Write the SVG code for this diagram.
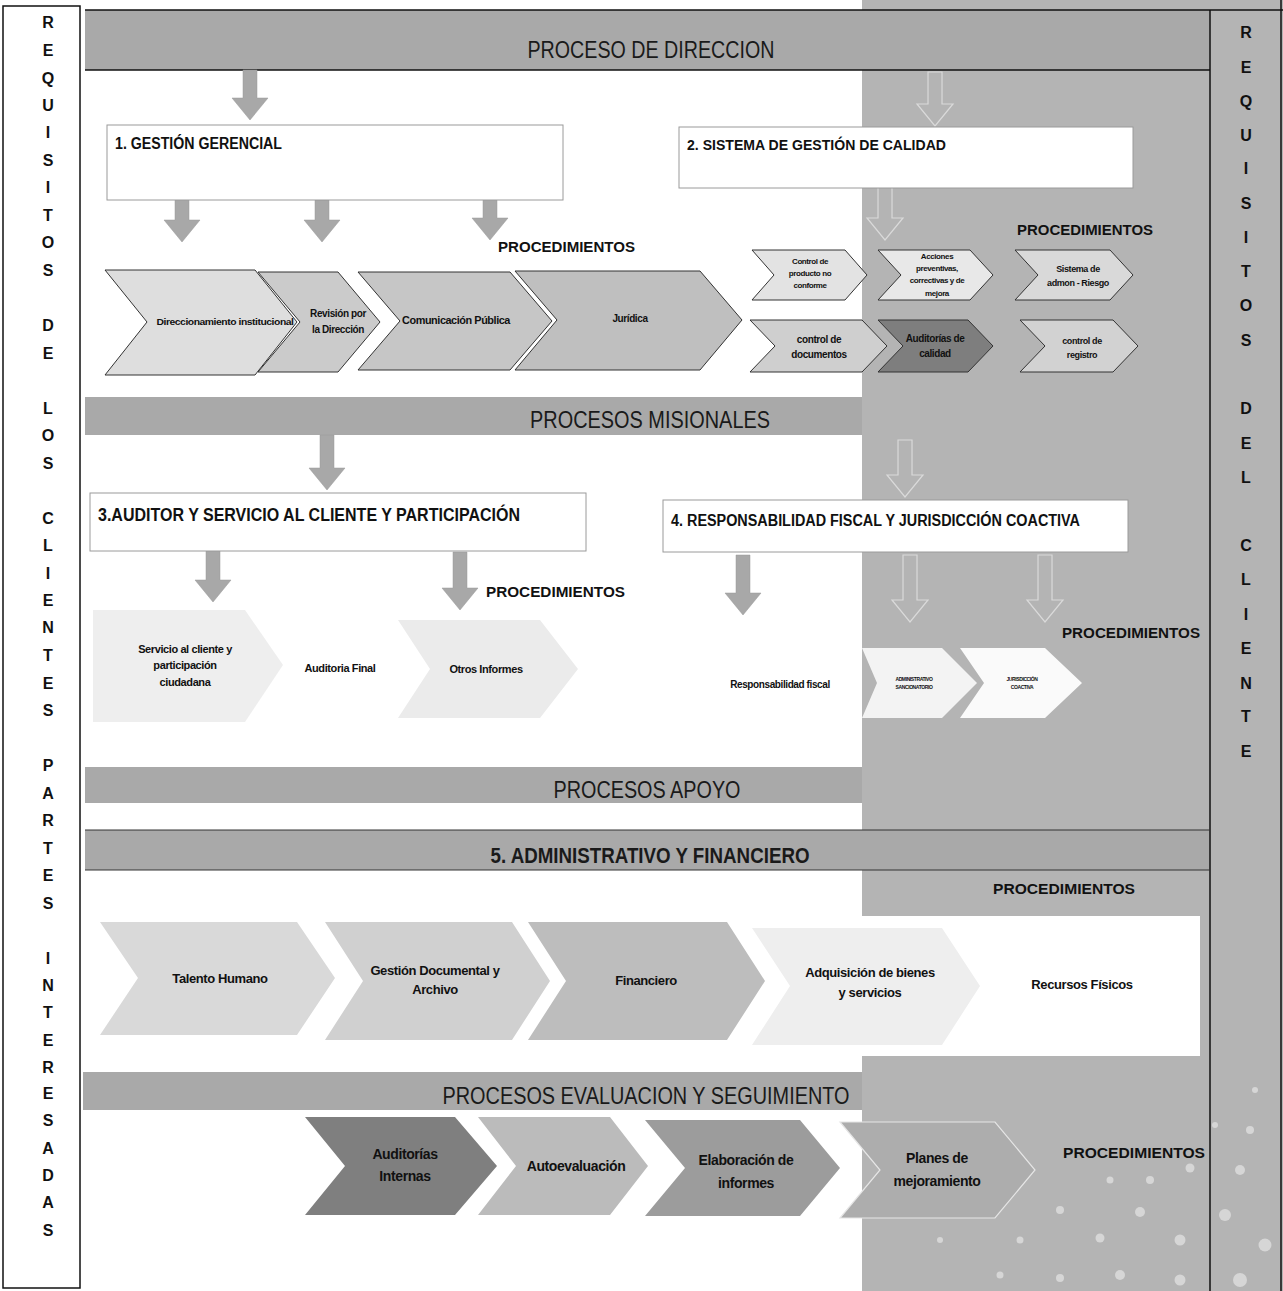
<svg xmlns="http://www.w3.org/2000/svg" width="1283" height="1291" viewBox="0 0 1283 1291">
<defs>
<style>
.hdr{font-family:"Liberation Sans",Arial,sans-serif;font-size:24px;fill:#1a1a1a;text-anchor:middle}
.hdrb{font-family:"Liberation Sans",Arial,sans-serif;font-size:22px;font-weight:bold;fill:#1a1a1a;text-anchor:middle}
.ttl{font-family:"Liberation Sans",Arial,sans-serif;font-weight:bold;fill:#111}
.proc{font-family:"Liberation Sans",Arial,sans-serif;font-size:14px;font-weight:900;fill:#111}
.lbl{font-family:"Liberation Sans",Arial,sans-serif;font-weight:bold;fill:#111;text-anchor:middle;letter-spacing:-0.4px}
.let{font-family:"Liberation Sans",Arial,sans-serif;font-size:16px;font-weight:bold;fill:#111;text-anchor:middle}
.bar{fill:#a9a9a9}
.box{fill:#fff;stroke:#9a9a9a;stroke-width:1}
.arr{fill:#a8a8a8;stroke:#999;stroke-width:0.5}
.arro{fill:#b4b4b4;stroke:#dadada;stroke-width:1.2}
.chv{stroke:#333;stroke-width:1}
.ln{stroke:#111;stroke-width:1.5;fill:none}
.dot{fill:#fff;opacity:0.45}
</style>
</defs>
<rect x="0" y="0" width="1283" height="1291" fill="#fff"/>
<!-- right gray region -->
<rect x="862" y="0" width="421" height="1291" fill="#b4b4b4"/>
<!-- decorative dots bottom right -->
<g id="dots">
<circle class="dot" cx="940" cy="1240" r="3"/><circle class="dot" cx="980" cy="1215" r="3"/><circle class="dot" cx="1020" cy="1240" r="3.5"/><circle class="dot" cx="1060" cy="1210" r="4"/><circle class="dot" cx="1100" cy="1238" r="4.5"/><circle class="dot" cx="1140" cy="1212" r="5"/><circle class="dot" cx="1180" cy="1240" r="5.5"/><circle class="dot" cx="1225" cy="1215" r="6"/><circle class="dot" cx="1265" cy="1245" r="6.5"/>
<circle class="dot" cx="1110" cy="1180" r="3.5"/><circle class="dot" cx="1150" cy="1180" r="4"/><circle class="dot" cx="1190" cy="1168" r="4.5"/><circle class="dot" cx="1240" cy="1170" r="5"/><circle class="dot" cx="1250" cy="1130" r="4"/><circle class="dot" cx="1215" cy="1125" r="3"/><circle class="dot" cx="1255" cy="1090" r="3"/>
<circle class="dot" cx="1000" cy="1275" r="3.5"/><circle class="dot" cx="1060" cy="1278" r="4"/><circle class="dot" cx="1120" cy="1275" r="5"/><circle class="dot" cx="1180" cy="1280" r="5.5"/><circle class="dot" cx="1240" cy="1280" r="7"/>
</g>
<!-- bars -->
<rect class="bar" x="85" y="10" width="1125" height="60"/>
<rect class="bar" x="85" y="397" width="777" height="38"/>
<rect x="85" y="435" width="777" height="333" fill="#fff"/>
<rect class="bar" x="85" y="767" width="777" height="36"/>
<rect class="bar" x="85" y="830" width="1125" height="40"/>
<rect x="862" y="916" width="338" height="140" fill="#fff"/>
<rect class="bar" x="83" y="1072" width="779" height="38"/>
<!-- frame lines -->
<g id="frame">
<rect class="ln" x="3" y="6" width="77" height="1282"/>
<line class="ln" x1="85" y1="10" x2="1283" y2="10"/>
<line class="ln" x1="85" y1="70" x2="1210" y2="70"/>
<line class="ln" x1="1210" y1="10" x2="1210" y2="1291"/>
<line class="ln" x1="1281" y1="0" x2="1281" y2="1291"/>
<line x1="85" y1="830" x2="1210" y2="830" stroke="#333" stroke-width="1"/>
<line x1="85" y1="870" x2="1210" y2="870" stroke="#333" stroke-width="1"/>
</g>
<!-- side texts -->
<g id="left-label">
<text class="let" x="48" y="28">R</text><text class="let" x="48" y="56">E</text><text class="let" x="48" y="84">Q</text><text class="let" x="48" y="111">U</text><text class="let" x="48" y="138">I</text><text class="let" x="48" y="166">S</text><text class="let" x="48" y="193">I</text><text class="let" x="48" y="221">T</text><text class="let" x="48" y="248">O</text><text class="let" x="48" y="276">S</text>
<text class="let" x="48" y="331">D</text><text class="let" x="48" y="359">E</text>
<text class="let" x="48" y="414">L</text><text class="let" x="48" y="441">O</text><text class="let" x="48" y="469">S</text>
<text class="let" x="48" y="524">C</text><text class="let" x="48" y="551">L</text><text class="let" x="48" y="579">I</text><text class="let" x="48" y="606">E</text><text class="let" x="48" y="633">N</text><text class="let" x="48" y="661">T</text><text class="let" x="48" y="689">E</text><text class="let" x="48" y="716">S</text>
<text class="let" x="48" y="771">P</text><text class="let" x="48" y="799">A</text><text class="let" x="48" y="826">R</text><text class="let" x="48" y="854">T</text><text class="let" x="48" y="881">E</text><text class="let" x="48" y="909">S</text>
<text class="let" x="48" y="964">I</text><text class="let" x="48" y="991">N</text><text class="let" x="48" y="1018">T</text><text class="let" x="48" y="1046">E</text><text class="let" x="48" y="1073">R</text><text class="let" x="48" y="1099">E</text><text class="let" x="48" y="1126">S</text><text class="let" x="48" y="1154">A</text><text class="let" x="48" y="1181">D</text><text class="let" x="48" y="1208">A</text><text class="let" x="48" y="1236">S</text>
</g>
<g id="right-label">
<text class="let" x="1246" y="38">R</text><text class="let" x="1246" y="73">E</text><text class="let" x="1246" y="107">Q</text><text class="let" x="1246" y="141">U</text><text class="let" x="1246" y="174">I</text><text class="let" x="1246" y="209">S</text><text class="let" x="1246" y="243">I</text><text class="let" x="1246" y="277">T</text><text class="let" x="1246" y="311">O</text><text class="let" x="1246" y="346">S</text>
<text class="let" x="1246" y="414">D</text><text class="let" x="1246" y="449">E</text><text class="let" x="1246" y="483">L</text>
<text class="let" x="1246" y="551">C</text><text class="let" x="1246" y="585">L</text><text class="let" x="1246" y="620">I</text><text class="let" x="1246" y="654">E</text><text class="let" x="1246" y="689">N</text><text class="let" x="1246" y="722">T</text><text class="let" x="1246" y="757">E</text>
</g>
<!-- headers -->
<g id="headers">
<text class="hdr" x="651" y="58" textLength="247" lengthAdjust="spacingAndGlyphs">PROCESO  DE DIRECCION</text>
<text class="hdr" x="650" y="428" textLength="240" lengthAdjust="spacingAndGlyphs">PROCESOS  MISIONALES</text>
<text class="hdr" x="647" y="798" textLength="187" lengthAdjust="spacingAndGlyphs">PROCESOS  APOYO</text>
<text class="hdrb" x="650" y="863" textLength="319" lengthAdjust="spacingAndGlyphs">5. ADMINISTRATIVO Y FINANCIERO</text>
<text class="hdr" x="646" y="1104" textLength="407" lengthAdjust="spacingAndGlyphs">PROCESOS EVALUACION Y SEGUIMIENTO</text>
</g>
<!-- connectors (block arrows) -->
<g id="connectors">
<polygon class="arr" points="243,70 257,70 257,98 268,98 250,120 232,98 243,98"/>
<polygon class="arro" points="928,72 942,72 942,104 953,104 935,126 917,104 928,104"/>
<polygon class="arr" points="175,196 189,196 189,220 200,220 182,242 164,220 175,220"/>
<polygon class="arr" points="315,200 329,200 329,220 340,220 322,242 304,220 315,220"/>
<polygon class="arr" points="483,198 497,198 497,218 508,218 490,240 472,218 483,218"/>
<polygon class="arro" points="878,185 892,185 892,218 903,218 885,240 867,218 878,218"/>
<polygon class="arr" points="320,435 334,435 334,468 345,468 327,490 309,468 320,468"/>
<polygon class="arro" points="898,440 912,440 912,475 923,475 905,497 887,475 898,475"/>
<polygon class="arr" points="206,545 220,545 220,580 231,580 213,602 195,580 206,580"/>
<polygon class="arr" points="453,552 467,552 467,588 478,588 460,610 442,588 453,588"/>
<polygon class="arr" points="736,555 750,555 750,593 761,593 743,615 725,593 736,593"/>
<polygon class="arro" points="903,555 917,555 917,600 928,600 910,622 892,600 903,600"/>
<polygon class="arro" points="1038,555 1052,555 1052,600 1063,600 1045,622 1027,600 1038,600"/>
</g>
<!-- boxes -->
<g id="box1"><rect class="box" x="107" y="125" width="456" height="75"/><text class="ttl" x="115" y="149" font-size="16" textLength="167" lengthAdjust="spacingAndGlyphs">1. GESTIÓN GERENCIAL</text></g>
<g id="box2"><rect class="box" x="679" y="127" width="454" height="61"/><text class="ttl" x="687" y="150" font-size="15" textLength="259" lengthAdjust="spacingAndGlyphs">2. SISTEMA DE GESTIÓN DE CALIDAD</text></g>
<g id="box3"><rect class="box" x="90" y="493" width="496" height="58"/><text class="ttl" x="98" y="521" font-size="18" textLength="422" lengthAdjust="spacingAndGlyphs">3.AUDITOR Y SERVICIO AL CLIENTE Y PARTICIPACIÓN</text></g>
<g id="box4"><rect class="box" x="663" y="500" width="465" height="52"/><text class="ttl" x="671" y="526" font-size="16" textLength="409" lengthAdjust="spacingAndGlyphs">4. RESPONSABILIDAD FISCAL  Y JURISDICCIÓN COACTIVA</text></g>
<!-- PROCEDIMIENTOS labels -->
<g id="procs">
<text class="proc" x="498" y="252" textLength="137" lengthAdjust="spacingAndGlyphs">PROCEDIMIENTOS</text>
<text class="proc" x="1017" y="235" textLength="136" lengthAdjust="spacingAndGlyphs">PROCEDIMIENTOS</text>
<text class="proc" x="486" y="597" textLength="139" lengthAdjust="spacingAndGlyphs">PROCEDIMIENTOS</text>
<text class="proc" x="1062" y="638" textLength="138" lengthAdjust="spacingAndGlyphs">PROCEDIMIENTOS</text>
<text class="proc" x="993" y="894" textLength="142" lengthAdjust="spacingAndGlyphs">PROCEDIMIENTOS</text>
<text class="proc" x="1063" y="1158" textLength="142" lengthAdjust="spacingAndGlyphs">PROCEDIMIENTOS</text>
</g>
<!-- row 1 chevrons -->
<g id="c-direccionamiento"><polygon class="chv" fill="#dedede" points="105,270 255,270 297,322 255,375 105,375 147,322"/><text class="lbl" x="225" y="325" font-size="9" textLength="137" lengthAdjust="spacingAndGlyphs">Direccionamiento institucional</text></g>
<g id="c-revision"><polygon class="chv" fill="#cbcbcb" points="258,272 338,272 380,322 338,372 258,372 300,322"/><text class="lbl" x="338" y="317" font-size="10">Revisión por</text><text class="lbl" x="338" y="333" font-size="10">la Dirección</text></g>
<g id="c-comunicacion"><polygon class="chv" fill="#c6c6c6" points="358,272 510,272 552,321 510,370 358,370 400,321"/><text class="lbl" x="456" y="324" font-size="10" textLength="108" lengthAdjust="spacingAndGlyphs">Comunicación  Pública</text></g>
<g id="c-juridica"><polygon class="chv" fill="#bfbfbf" points="515,271 700,271 742,320 700,370 515,370 557,320"/><text class="lbl" x="630" y="322" font-size="10">Jurídica</text></g>
<!-- row 1 small chevrons -->
<g id="c-producto"><polygon class="chv" fill="#e3e3e3" points="752,250 845,250 867,275 845,300 752,300 774,275"/><text class="lbl" x="810" y="264" font-size="8">Control de</text><text class="lbl" x="810" y="276" font-size="8">producto no</text><text class="lbl" x="810" y="288" font-size="8">conforme</text></g>
<g id="c-acciones"><polygon class="chv" fill="#e8e8e8" points="878,250 970,250 993,275 970,300 878,300 901,275"/><text class="lbl" x="937" y="259" font-size="8">Acciones</text><text class="lbl" x="937" y="271" font-size="8">preventivas,</text><text class="lbl" x="937" y="283" font-size="8">correctivas y de</text><text class="lbl" x="937" y="296" font-size="8">mejora</text></g>
<g id="c-riesgo"><polygon class="chv" fill="#d9d9d9" points="1015,250 1110,250 1133,275 1110,300 1015,300 1038,275"/><text class="lbl" x="1078" y="272" font-size="9">Sistema de</text><text class="lbl" x="1078" y="286" font-size="9">admon - Riesgo</text></g>
<g id="c-documentos"><polygon class="chv" fill="#cfcfcf" points="750,320 862,320 887,346 862,372 750,372 775,346"/><text class="lbl" x="819" y="343" font-size="10">control de</text><text class="lbl" x="819" y="358" font-size="10">documentos</text></g>
<g id="c-auditorias-calidad"><polygon class="chv" fill="#7e7e7e" points="878,320 968,320 993,346 968,372 878,372 903,346"/><text class="lbl" x="935" y="342" font-size="10">Auditorías de</text><text class="lbl" x="935" y="357" font-size="10">calidad</text></g>
<g id="c-registro"><polygon class="chv" fill="#d2d2d2" points="1020,320 1113,320 1138,346 1113,372 1020,372 1045,346"/><text class="lbl" x="1082" y="344" font-size="9">control de</text><text class="lbl" x="1082" y="358" font-size="9">registro</text></g>
<!-- row 2 -->
<g id="c-servicio"><polygon fill="#eeeeee" points="93,610 245,610 283,665 245,722 93,722"/><text class="lbl" x="185" y="653" font-size="11">Servicio al cliente y</text><text class="lbl" x="185" y="669" font-size="11">participación</text><text class="lbl" x="185" y="686" font-size="11">ciudadana</text></g>
<g id="c-auditoria-final"><text class="lbl" x="340" y="672" font-size="11">Auditoria Final</text></g>
<g id="c-otros"><polygon fill="#ebebeb" points="398,620 540,620 578,669 540,718 398,718 430,669"/><text class="lbl" x="486" y="673" font-size="11">Otros Informes</text></g>
<g id="c-resp-fiscal"><text class="lbl" x="780" y="688" font-size="10">Responsabilidad  fiscal</text></g>
<g id="c-sancionatorio"><polygon fill="#f3f3f3" points="862,648 942,648 977,683 942,718 862,718 877,683"/><text class="lbl" x="914" y="681" font-size="5">ADMINISTRATIVO</text><text class="lbl" x="914" y="689" font-size="5">SANCIONATORIO</text></g>
<g id="c-jurisdiccion"><polygon fill="#fafafa" points="960,648 1045,648 1082,683 1045,718 960,718 984,683"/><text class="lbl" x="1022" y="681" font-size="5">JURISDICCIÓN</text><text class="lbl" x="1022" y="689" font-size="5">COACTIVA</text></g>
<!-- row 3 -->
<g id="c-talento"><polygon fill="#d9d9d9" points="100,922 297,922 335,978 297,1035 100,1035 138,978"/><text class="lbl" x="220" y="983" font-size="13">Talento Humano</text></g>
<g id="c-gestion-doc"><polygon fill="#d0d0d0" points="325,922 512,922 550,981 512,1040 325,1040 363,981"/><text class="lbl" x="435" y="975" font-size="13">Gestión Documental y</text><text class="lbl" x="435" y="994" font-size="13">Archivo</text></g>
<g id="c-financiero"><polygon fill="#bdbdbd" points="528,922 727,922 765,981 727,1040 528,1040 566,981"/><text class="lbl" x="646" y="985" font-size="13">Financiero</text></g>
<g id="c-adquisicion"><polygon fill="#eeeeee" points="752,928 942,928 980,986 942,1045 752,1045 790,986"/><text class="lbl" x="870" y="977" font-size="13">Adquisición de bienes</text><text class="lbl" x="870" y="997" font-size="13">y servicios</text></g>
<g id="c-recursos"><text class="lbl" x="1082" y="989" font-size="13">Recursos Físicos</text></g>
<!-- bottom row -->
<g id="c-auditorias-internas"><polygon fill="#7f7f7f" points="305,1117 455,1117 497,1166 455,1215 305,1215 345,1166"/><text class="lbl" x="405" y="1159" font-size="14" fill="#333">Auditorías</text><text class="lbl" x="405" y="1181" font-size="14" fill="#333">Internas</text></g>
<g id="c-autoevaluacion"><polygon fill="#bbbbbb" points="478,1117 610,1117 648,1166 610,1215 478,1215 516,1166"/><text class="lbl" x="576" y="1171" font-size="14">Autoevaluación</text></g>
<g id="c-elaboracion"><polygon fill="#9c9c9c" points="645,1120 800,1120 840,1168 800,1216 645,1216 685,1168"/><text class="lbl" x="746" y="1165" font-size="14">Elaboración de</text><text class="lbl" x="746" y="1188" font-size="14">informes</text></g>
<g id="c-planes"><polygon fill="#adadad" stroke="#e6e6e6" stroke-width="1.2" points="840,1122 995,1122 1035,1170 995,1218 840,1218 880,1170"/><text class="lbl" x="937" y="1163" font-size="14">Planes de</text><text class="lbl" x="937" y="1186" font-size="14">mejoramiento</text></g>
</svg>
